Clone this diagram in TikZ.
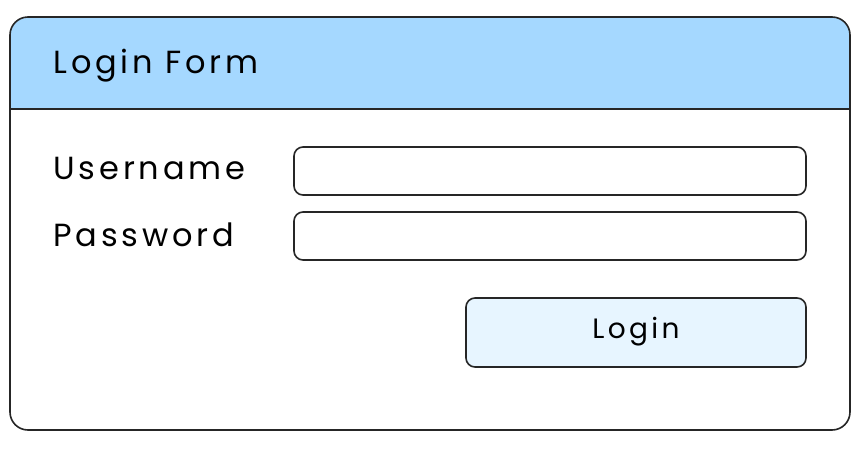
\documentclass[tikz,border=0pt]{standalone}
\usepackage{fontspec}
\setmainfont{Poppins}[LetterSpace=12]
\begin{document}
\begin{tikzpicture}[x=1pt,y=-1pt,
  box/.style={draw=black!85,line width=1.6pt,rounded corners=9pt},
  lbl/.style={anchor=west,font=\fontsize{32}{36}\selectfont}]
\useasboundingbox (0,0) rectangle (861,453);
\fill[fill=white] (0,0) rectangle (861,453);
\fill[fill={rgb,255:red,165;green,216;blue,255},rounded corners=18pt] (10,17) rectangle (850,60);
\fill[fill={rgb,255:red,165;green,216;blue,255}] (10,40) rectangle (850,109);
\draw[box,rounded corners=18pt] (10,17) rectangle (850,430);
\draw[line width=1.6pt,draw=black!85] (10,109) -- (850,109);
\node[lbl] (title) at (50,66) {Login Form};
\node[lbl] (user) at (50,168) {Username};
\node[lbl] (pass) at (50,235) {Password};
\draw[box] (294,147) rectangle (806,195);
\draw[box] (294,212) rectangle (806,260);
\draw[box,fill={rgb,255:red,231;green,245;blue,255}] (466,298) rectangle (806,367);
\node[font=\fontsize{28}{32}\selectfont] (btn) at (636,332) {Login};
\end{tikzpicture}
\end{document}
